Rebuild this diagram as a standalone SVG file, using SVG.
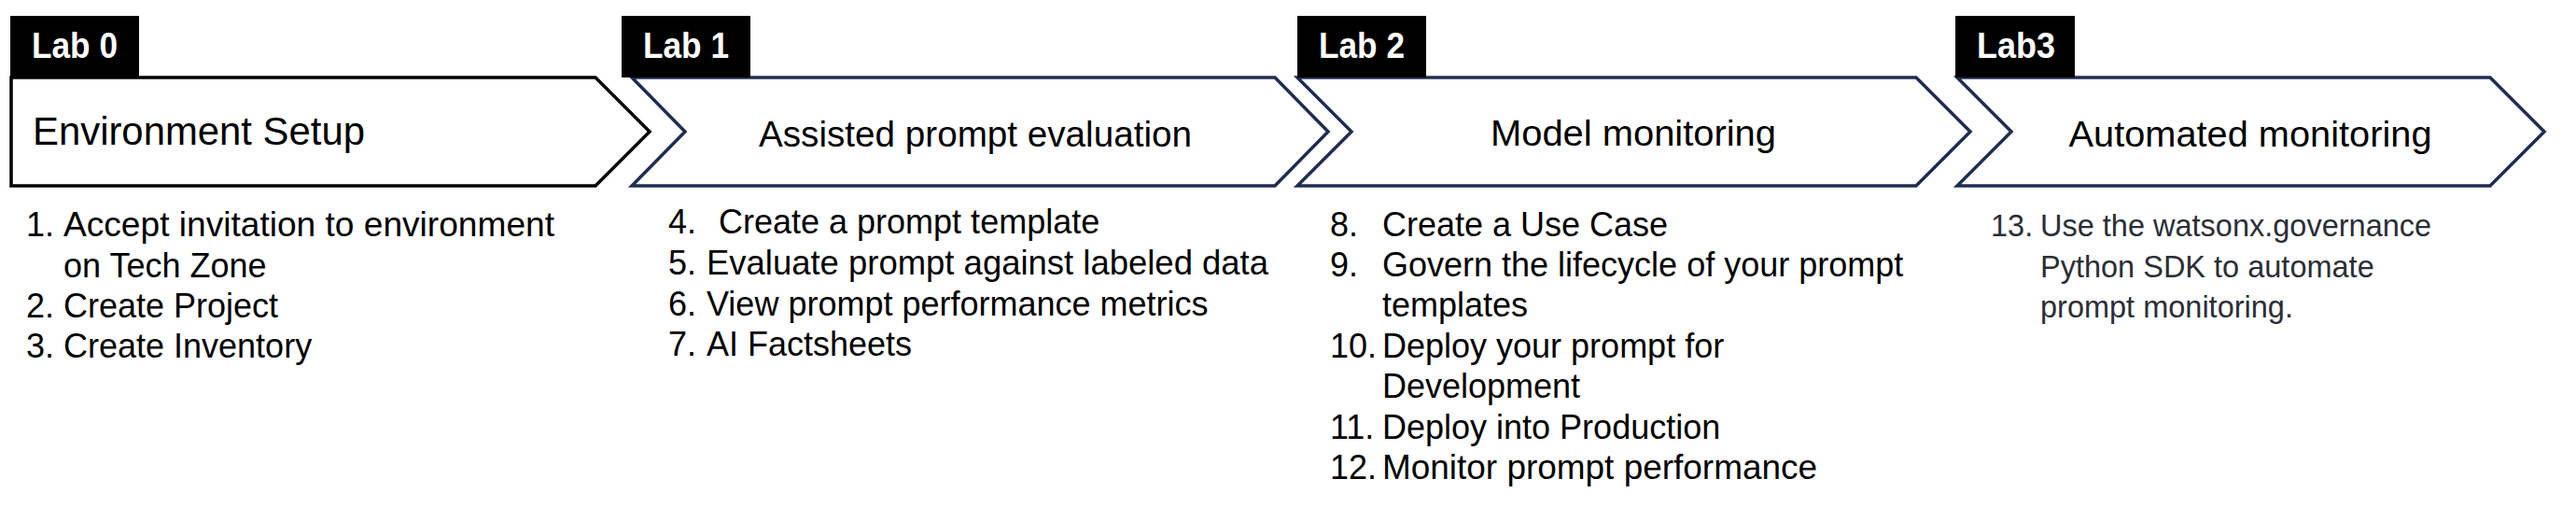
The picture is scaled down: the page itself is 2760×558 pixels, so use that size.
<svg xmlns="http://www.w3.org/2000/svg" width="2760" height="558" viewBox="0 0 2760 558">
<style>
.bg{fill:#ffffff}
.chev{fill:#ffffff;stroke:#1f2d4f;stroke-width:3.5;stroke-linejoin:miter}
.chev0{fill:#ffffff;stroke:#000000;stroke-width:3.5;stroke-linejoin:miter}
.tab{fill:#000000}
.tabt{font-family:"Liberation Sans",Arial,sans-serif;font-weight:bold;font-size:38px;fill:#ffffff}
.title{font-family:"Liberation Sans",Arial,sans-serif;font-size:38px;fill:#000000;text-anchor:middle}
.title0{font-family:"Liberation Sans",Arial,sans-serif;font-size:42px;fill:#000000}
.item{font-family:"Liberation Sans",Arial,sans-serif;font-size:36px;fill:#000000}
.item3{font-family:"Liberation Sans",Arial,sans-serif;font-size:32.5px;fill:#2b2e36}
</style>
<rect class="bg" x="0" y="0" width="2760" height="558"/>
<g id="lab0">
<polygon class="chev0" points="12,83 638,83 696,141 638,199 12,199"/>
<rect class="tab" x="11" y="17" width="138" height="66"/>
<text class="tabt" x="34" y="62" textLength="92" lengthAdjust="spacingAndGlyphs">Lab 0</text>
<text class="title0" x="35" y="155" textLength="356" lengthAdjust="spacingAndGlyphs">Environment Setup</text>
<text class="item"><tspan x="28" y="253">1.</tspan><tspan x="68" y="253" textLength="526" lengthAdjust="spacingAndGlyphs">Accept invitation to environment</tspan></text>
<text class="item" x="68" y="297">on Tech Zone</text>
<text class="item"><tspan x="28" y="340">2.</tspan><tspan x="68" y="340">Create Project</tspan></text>
<text class="item"><tspan x="28" y="383">3.</tspan><tspan x="68" y="383">Create Inventory</tspan></text>
</g>
<g id="lab1">
<polygon class="chev" points="677,83 1366,83 1423,141 1366,199 677,199 734,141"/>
<rect class="tab" x="666" y="17" width="138" height="66"/>
<text class="tabt" x="689" y="62" textLength="92" lengthAdjust="spacingAndGlyphs">Lab 1</text>
<text class="title" x="1045" y="157" textLength="464" lengthAdjust="spacingAndGlyphs">Assisted prompt evaluation</text>
<text class="item"><tspan x="716" y="250">4.</tspan><tspan x="770" y="250">Create a prompt template</tspan></text>
<text class="item"><tspan x="716" y="294">5.</tspan><tspan x="757" y="294" textLength="602" lengthAdjust="spacingAndGlyphs">Evaluate prompt against labeled data</tspan></text>
<text class="item"><tspan x="716" y="338">6.</tspan><tspan x="757" y="338">View prompt performance metrics</tspan></text>
<text class="item"><tspan x="716" y="381">7.</tspan><tspan x="757" y="381">AI Factsheets</tspan></text>
</g>
<g id="lab2">
<polygon class="chev" points="1390,83 2053,83 2111,141 2053,199 1390,199 1448,141"/>
<rect class="tab" x="1390" y="17" width="138" height="66"/>
<text class="tabt" x="1413" y="62" textLength="92" lengthAdjust="spacingAndGlyphs">Lab 2</text>
<text class="title" x="1750" y="156" textLength="306" lengthAdjust="spacingAndGlyphs">Model monitoring</text>
<text class="item"><tspan x="1425" y="253">8.</tspan><tspan x="1481" y="253">Create a Use Case</tspan></text>
<text class="item"><tspan x="1425" y="296">9.</tspan><tspan x="1481" y="296">Govern the lifecycle of your prompt</tspan></text>
<text class="item" x="1481" y="339">templates</text>
<text class="item"><tspan x="1425" y="383">10.</tspan><tspan x="1481" y="383">Deploy your prompt for</tspan></text>
<text class="item" x="1481" y="426">Development</text>
<text class="item"><tspan x="1425" y="470">11.</tspan><tspan x="1481" y="470">Deploy into Production</tspan></text>
<text class="item"><tspan x="1425" y="513">12.</tspan><tspan x="1481" y="513" textLength="466" lengthAdjust="spacingAndGlyphs">Monitor prompt performance</tspan></text>
</g>
<g id="lab3">
<polygon class="chev" points="2097,83 2668,83 2726,141 2668,199 2097,199 2155,141"/>
<rect class="tab" x="2095" y="17" width="128" height="66"/>
<text class="tabt" x="2118" y="62" textLength="84" lengthAdjust="spacingAndGlyphs">Lab3</text>
<text class="title" x="2411" y="157" textLength="389" lengthAdjust="spacingAndGlyphs">Automated monitoring</text>
<text class="item3"><tspan x="2133" y="253">13.</tspan><tspan x="2186" y="253">Use the watsonx.governance</tspan></text>
<text class="item3" x="2186" y="297">Python SDK to automate</text>
<text class="item3" x="2186" y="340">prompt monitoring.</text>
</g>
<g id="connectors"></g>
</svg>
